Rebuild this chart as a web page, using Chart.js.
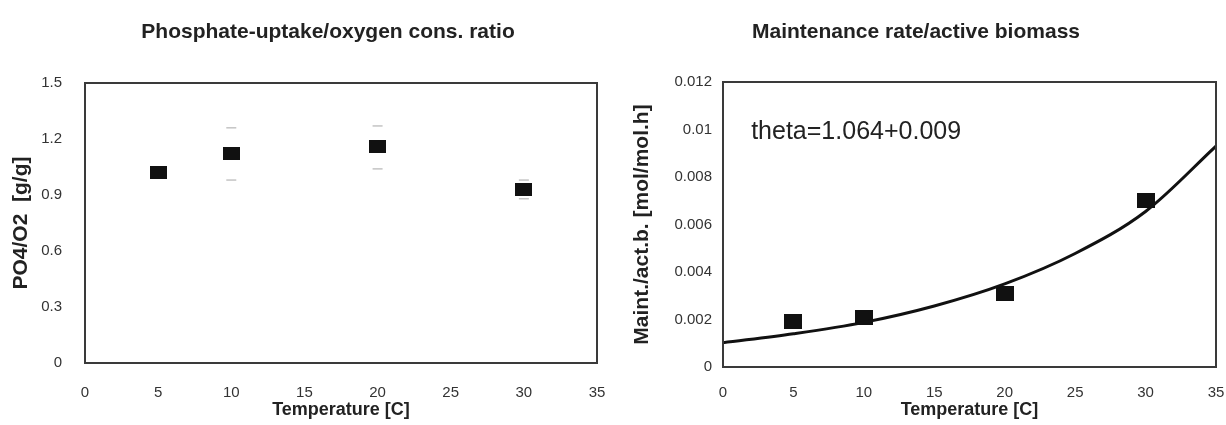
<!DOCTYPE html>
<html lang="en">
<head>
    <meta charset="UTF-8">
    <title>Phosphate uptake and maintenance rate</title>
    <script src="https://cdn.jsdelivr.net/npm/chart.js"></script>
    <style>
        body {
            margin: 0;
            padding: 0;
            background-color: #ffffff;
        }

        .panel {
            position: absolute;
            top: 0;
            width: 613px;
            height: 425px;
        }

        #leftPanel { left: 0; }
        #rightPanel { left: 613px; }
    </style>
</head>
<body>
    <div class="panel" id="leftPanel"><canvas id="ratioChart" width="613" height="425"></canvas></div>
    <div class="panel" id="rightPanel"><canvas id="maintChart" width="613" height="425"></canvas></div>

    <script>
        // Measured points
        const tempC = [5, 10, 20, 30];
        const ratioMean = [1.02, 1.12, 1.16, 0.93];
        const ratioUpper = [null, 1.26, 1.27, 0.98];
        const ratioLower = [null, 0.98, 1.04, 0.88];
        const maintRate = [0.0019, 0.0021, 0.0031, 0.0070];

        // Fitted curve
        const fitTemp = [0, 5, 10, 15, 20, 25, 30, 35];
        const fitRate = [0.00102, 0.00140, 0.00188, 0.00257, 0.00350, 0.00478, 0.00655, 0.0093];

        const fontFamily = "'Liberation Sans', Arial, sans-serif";
        const inkColor = '#333333';
        const titleColor = '#222222';

        // Rectangular black marker
        function makeMarker(w, h) {
            const c = document.createElement('canvas');
            c.width = w;
            c.height = h;
            const g = c.getContext('2d');
            g.fillStyle = '#111111';
            g.fillRect(0, 0, w, h);
            return c;
        }

        const toPoints = (xs, ys) => xs.map((x, i) => ({ x: x, y: ys[i] })).filter(p => p.y !== null);

        // Frame around the plot area plus the panel heading
        const framePlugin = {
            id: 'frame',
            afterDatasetsDraw(chart, args, opts) {
                const { ctx, chartArea } = chart;
                ctx.save();
                ctx.strokeStyle = '#3a3a3a';
                ctx.lineWidth = 2;
                ctx.strokeRect(chartArea.left, chartArea.top, chartArea.right - chartArea.left, chartArea.bottom - chartArea.top);
                ctx.fillStyle = titleColor;
                ctx.font = 'bold 21px ' + fontFamily;
                ctx.textAlign = 'center';
                ctx.textBaseline = 'middle';
                ctx.fillText(opts.text, opts.x, 32);
                ctx.restore();
            }
        };

        function baseOptions(cfg) {
            return {
                responsive: false,
                animation: false,
                layout: { padding: cfg.padding },
                plugins: {
                    legend: { display: false },
                    tooltip: { enabled: false },
                    title: { display: false },
                    frame: { text: cfg.title, x: cfg.titleX }
                },
                scales: {
                    x: {
                        type: 'linear',
                        min: 0,
                        max: 35,
                        grid: { display: false, drawTicks: true, tickLength: cfg.xTickGap },
                        border: { display: false },
                        ticks: {
                            stepSize: 5,
                            padding: 1,
                            color: inkColor,
                            font: { family: fontFamily, size: 15 }
                        },
                        title: {
                            display: true,
                            text: 'Temperature [C]',
                            color: titleColor,
                            font: { family: fontFamily, size: 18, weight: 'bold' },
                            padding: { top: 0, bottom: 4 }
                        },
                        afterFit(scale) { scale.height = cfg.xHeight; }
                    },
                    y: {
                        min: cfg.yMin,
                        max: cfg.yMax,
                        grid: { display: false, drawTicks: false },
                        border: { display: false },
                        ticks: {
                            stepSize: cfg.yStep,
                            padding: cfg.yTickPad,
                            color: inkColor,
                            font: { family: fontFamily, size: 15 },
                            callback: v => String(+v.toFixed(cfg.yDigits))
                        },
                        title: {
                            display: true,
                            text: cfg.yTitle,
                            color: titleColor,
                            font: { family: fontFamily, size: 21, weight: 'bold' },
                            padding: { top: cfg.yTitlePad, bottom: 0 }
                        },
                        afterFit(scale) { scale.width = cfg.yWidth; }
                    }
                }
            };
        }

        // Left chart: phosphate uptake / oxygen consumption
        new Chart(document.getElementById('ratioChart').getContext('2d'), {
            type: 'scatter',
            data: {
                datasets: [
                    {
                        data: toPoints(tempC, ratioUpper),
                        pointStyle: 'line',
                        pointRadius: 5,
                        borderColor: '#c4c4c4',
                        borderWidth: 1.5
                    },
                    {
                        data: toPoints(tempC, ratioLower),
                        pointStyle: 'line',
                        pointRadius: 5,
                        borderColor: '#c4c4c4',
                        borderWidth: 1.5
                    },
                    {
                        data: toPoints(tempC, ratioMean),
                        pointStyle: makeMarker(17, 13),
                        pointRadius: 8
                    }
                ]
            },
            options: baseOptions({
                title: 'Phosphate-uptake/oxygen cons. ratio',
                titleX: 328,
                padding: { top: 83, left: 0, right: 16, bottom: 0 },
                xHeight: 62,
                xTickGap: 20,
                yMin: 0, yMax: 1.5, yStep: 0.3, yDigits: 1,
                yTickPad: 23,
                yTitle: 'PO4/O2  [g/g]',
                yTitlePad: 9,
                yWidth: 85
            }),
            plugins: [framePlugin]
        });

        // Right chart: maintenance rate / active biomass
        const thetaLabel = {
            id: 'thetaLabel',
            afterDatasetsDraw(chart) {
                const { ctx, scales } = chart;
                ctx.save();
                ctx.fillStyle = titleColor;
                ctx.font = '25px ' + fontFamily;
                ctx.textAlign = 'left';
                ctx.textBaseline = 'middle';
                ctx.fillText('theta=1.064+0.009', scales.x.getPixelForValue(2.0), scales.y.getPixelForValue(0.0099));
                ctx.restore();
            }
        };

        new Chart(document.getElementById('maintChart').getContext('2d'), {
            type: 'scatter',
            data: {
                datasets: [
                    {
                        type: 'line',
                        data: toPoints(fitTemp, fitRate),
                        borderColor: '#111111',
                        borderWidth: 3,
                        pointRadius: 0,
                        cubicInterpolationMode: 'monotone',
                        fill: false
                    },
                    {
                        data: toPoints(tempC, maintRate),
                        pointStyle: makeMarker(18, 15),
                        pointRadius: 9
                    }
                ]
            },
            options: baseOptions({
                title: 'Maintenance rate/active biomass',
                titleX: 303,
                padding: { top: 82, left: 0, right: 8, bottom: 0 },
                xHeight: 58,
                xTickGap: 16,
                yMin: 0, yMax: 0.012, yStep: 0.002, yDigits: 3,
                yTickPad: 11,
                yTitle: 'Maint./act.b. [mol/mol.h]',
                yTitlePad: 17,
                yWidth: 110
            }),
            plugins: [framePlugin, thetaLabel]
        });
    </script>
</body>
</html>
